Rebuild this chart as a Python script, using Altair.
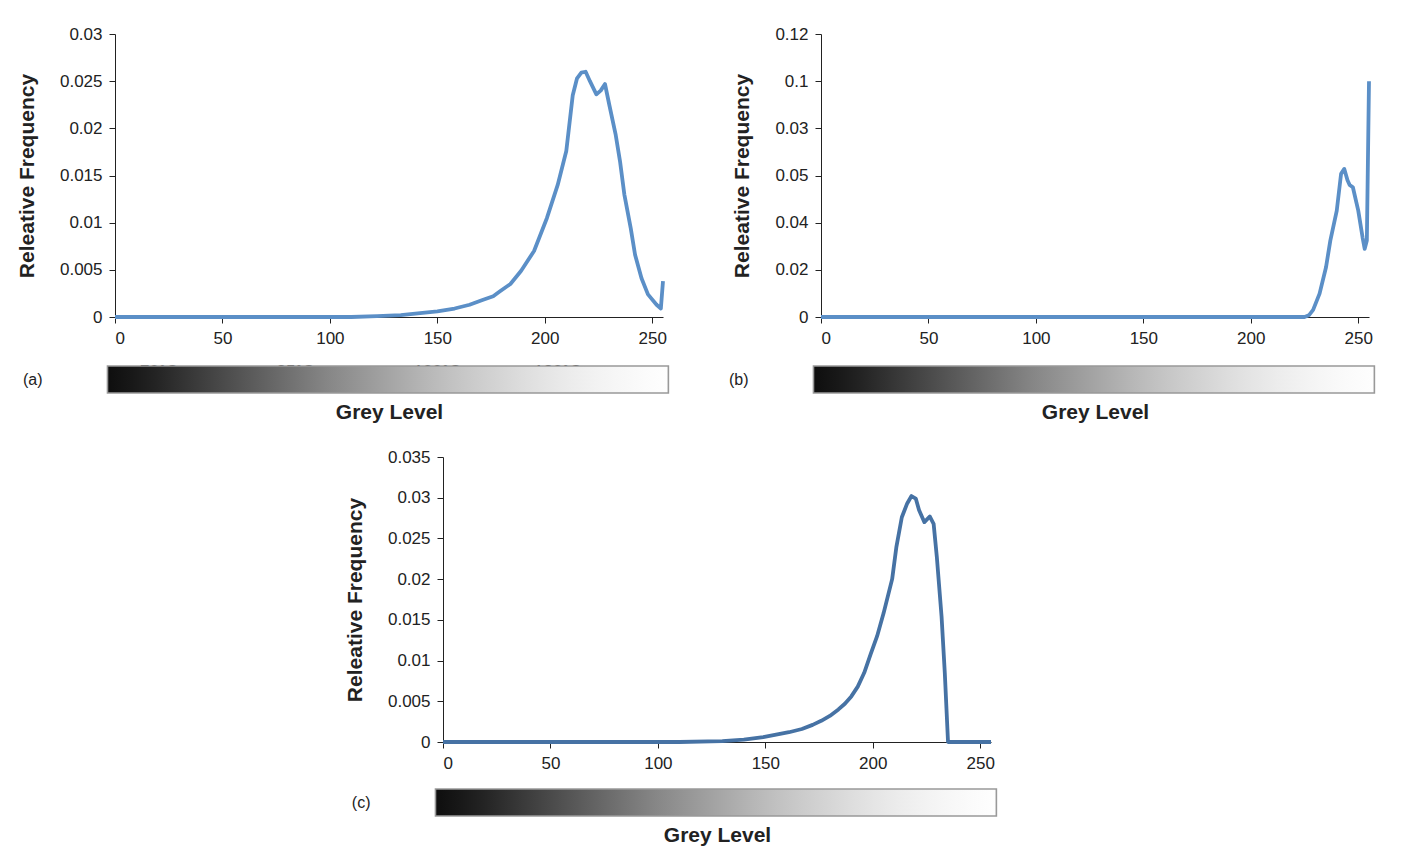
import altair as alt
import pandas as pd

# ---------------- data ----------------
a_x = [0, 110, 122, 133, 142, 150, 158, 165, 171, 176, 179, 184, 189, 195, 201, 206, 210, 213,
       215, 217, 219, 221, 224, 226, 228, 230, 233, 235, 237, 240, 242, 245, 248, 252, 254, 255]
a_y = [0, 0, 0.0001, 0.0002, 0.0004, 0.0006, 0.0009, 0.0013, 0.0018, 0.0022, 0.0027, 0.0035,
       0.0049, 0.0070, 0.0105, 0.0140, 0.0176, 0.0235, 0.0253, 0.0259, 0.0260, 0.0250, 0.0236,
       0.0240, 0.0247, 0.0225, 0.0193, 0.0165, 0.0130, 0.0094, 0.0066, 0.0041, 0.0024, 0.0013,
       0.0009, 0.0038]

b_x = [0, 225, 227, 229, 232, 235, 237, 240, 242, 243.5, 245, 246, 247.5, 250, 252, 253, 254, 255]
b_y = [0, 0, 0.0007, 0.003, 0.0099, 0.0211, 0.0324, 0.0451, 0.0607, 0.0628, 0.058, 0.056,
       0.055, 0.0451, 0.0338, 0.0289, 0.0324, 0.1]

c_x = [0, 110, 130, 140, 149, 155, 161, 167, 172, 176, 180, 184, 187, 190, 193, 196, 199, 202,
       205, 209, 211, 213.5, 216, 218, 220, 221.5, 224, 226.5, 228.3, 229.8, 232, 233.5, 235, 255]
c_y = [0, 0, 0.0001, 0.0003, 0.0006, 0.0009, 0.0012, 0.0016, 0.0021, 0.0026, 0.0032, 0.0040,
       0.0047, 0.0056, 0.0068, 0.0085, 0.0108, 0.0130, 0.0158, 0.0200, 0.0240, 0.0276, 0.0293,
       0.0302, 0.0299, 0.0285, 0.0270, 0.0277, 0.0268, 0.0227, 0.0154, 0.0085, 0.0, 0.0]

x_ticks = [0, 50, 100, 150, 200, 250]
a_ticks = [0, 0.005, 0.01, 0.015, 0.02, 0.025, 0.03]
b_ticks = [0, 0.02, 0.04, 0.06, 0.08, 0.1, 0.12]
b_tick_labels = ["0", "0.02", "0.04", "0.05", "0.03", "0.1", "0.12"]   # as printed in the figure
c_ticks = [0, 0.005, 0.01, 0.015, 0.02, 0.025, 0.03, 0.035]

# grey-scale bar: grey tone along the bar, left to right
grey_steps = [14, 24, 36, 50, 64, 78, 92, 106, 120, 134, 146, 158, 170, 182, 193, 203,
              212, 221, 229, 236, 242, 247, 251, 254]
bar_start, bar_end = -3.5, 257.5     # grey-level extent of the printed bar

temp_labels = ["70°C", "85°C", "100°C", "120°C"]
temp_pos = [20.5, 84, 150, 206]

panel_tags = ["(a)", "(b)", "(c)"]

FONT = "Liberation Sans"
INK = "#222222"


def line_panel(xs, ys, color, ticks, height, label_expr=None):
    df = pd.DataFrame({"g": xs, "f": ys})
    yaxis = dict(values=ticks, title="Releative Frequency", format="~g")
    if label_expr:
        yaxis["labelExpr"] = label_expr
    return alt.Chart(df).mark_line(color=color, strokeWidth=3.8, strokeJoin="round").encode(
        x=alt.X("g:Q", scale=alt.Scale(domain=[0, 255], nice=False, zero=False),
                axis=alt.Axis(values=x_ticks, title=None, labelPadding=7)),
        y=alt.Y("f:Q", scale=alt.Scale(domain=[0, max(ticks)], nice=False),
                axis=alt.Axis(**yaxis)),
    ).properties(width=548, height=height)


def bar_panel(tag, temps=False):
    n = len(grey_steps)
    stops = [alt.GradientStop(color="#{0:02x}{0:02x}{0:02x}".format(g), offset=i / (n - 1))
             for i, g in enumerate(grey_steps)]
    grad = alt.Gradient(gradient="linear", stops=stops, x1=0, x2=1, y1=0, y2=0)
    df = pd.DataFrame({"s": [bar_start], "e": [bar_end], "r": ["r"]})
    xenc = alt.X("s:Q", scale=alt.Scale(domain=[0, 255], nice=False, zero=False),
                 axis=alt.Axis(title="Grey Level", labels=False, ticks=False, domain=False,
                               grid=False, titlePadding=8))
    yenc = alt.Y("r:N", axis=alt.Axis(title=tag, labels=False, ticks=False, domain=False,
                                      titleAngle=0, titleFontWeight="normal", titleFontSize=16,
                                      titleFont=FONT, titleAlign="right", titleBaseline="middle",
                                      titlePadding=73))
    rect = alt.Chart(df).mark_rect(fill=grad, stroke="#999999", strokeWidth=1.6).encode(
        x=xenc, x2="e:Q", y=yenc)
    layers = []
    if temps:
        tdf = pd.DataFrame({"p": temp_pos, "t": temp_labels, "r": ["r"] * len(temp_pos)})
        layers.append(alt.Chart(tdf).mark_text(
            font=FONT, fontSize=17, color=INK, baseline="alphabetic", dy=-3).encode(
            x="p:Q", y="r:N", text="t:N"))
    layers.append(rect)
    return alt.layer(*layers).properties(width=548, height=27)


b_expr = "[" + ",".join("'%s'" % s for s in b_tick_labels) + "][round(datum.value / 0.02)]"

panel_a = alt.vconcat(line_panel(a_x, a_y, "#5b8fc7", a_ticks, 283),
                      bar_panel(panel_tags[0], temps=True), spacing=16)
panel_b = alt.vconcat(line_panel(b_x, b_y, "#5b8fc7", b_ticks, 283, label_expr=b_expr),
                      bar_panel(panel_tags[1]), spacing=19)
panel_c = alt.vconcat(line_panel(c_x, c_y, "#4672a4", c_ticks, 285),
                      bar_panel(panel_tags[2]), spacing=17)

spacer = alt.Chart(pd.DataFrame({"z": [0]})).mark_point(opacity=0).encode(
    x=alt.value(0), y=alt.value(0)).properties(width=229, height=10)

top = alt.hconcat(panel_a, panel_b, spacing=58)
bottom = alt.hconcat(spacer, panel_c, spacing=0)

chart = alt.vconcat(top, bottom, spacing=26).properties(
    padding={"left": 8, "top": 17, "right": 5, "bottom": 5}
).configure_view(stroke=None).configure_axis(
    labelFont=FONT, labelFontSize=17, labelColor=INK,
    titleFont=FONT, titleFontSize=21, titleFontWeight="bold", titleColor=INK,
    domainColor=INK, tickColor=INK, tickSize=6, grid=False, titlePadding=22,
).configure_axisY(labelPadding=7)

chart.save("out.html", embed_options={"renderer": "svg", "actions": False})
